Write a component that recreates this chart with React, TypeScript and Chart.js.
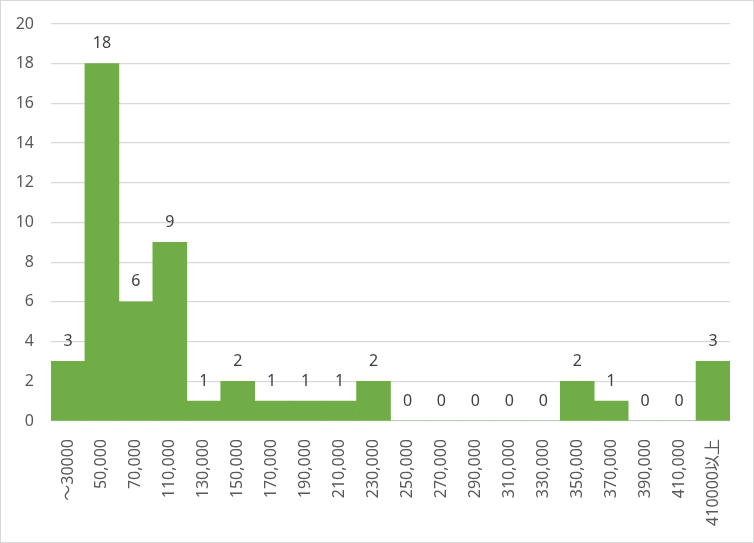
import React, { useEffect, useRef } from "react";
import { Chart, registerables } from "chart.js";

Chart.register(...registerables);

const categories: string[] = [
  "～30000", "50,000", "70,000", "110,000", "130,000", "150,000", "170,000",
  "190,000", "210,000", "230,000", "250,000", "270,000", "290,000", "310,000",
  "330,000", "350,000", "370,000", "390,000", "410,000", "410000以上",
];
const counts: number[] = [3, 18, 6, 9, 1, 2, 1, 1, 1, 2, 0, 0, 0, 0, 0, 2, 1, 0, 0, 3];
const yTicks: number[] = [0, 2, 4, 6, 8, 10, 12, 14, 16, 18, 20];

const FONT = "'Noto Sans', 'Noto Sans CJK JP', sans-serif";

const dataLabels = {
  id: "dataLabels",
  afterDatasetsDraw(chart: any) {
    const ctx = chart.ctx;
    const meta = chart.getDatasetMeta(0);
    ctx.save();
    ctx.font = `16px ${FONT}`;
    ctx.fillStyle = "#404040";
    ctx.textAlign = "center";
    ctx.textBaseline = "middle";
    meta.data.forEach((el: any, i: number) => {
      ctx.fillText(String(counts[i]), el.x, el.y - 20);
    });
    ctx.restore();
  },
};

export default function App() {
  const ref = useRef<HTMLCanvasElement | null>(null);
  useEffect(() => {
    document.body.style.margin = "0";
    if (!ref.current) return;
    const chart = new Chart(ref.current, {
      type: "bar",
      data: {
        labels: categories,
        datasets: [
          {
            data: counts,
            backgroundColor: "#70AD47",
            borderWidth: 0,
            categoryPercentage: 1,
            barPercentage: 1,
          },
        ],
      },
      options: {
        animation: false,
        responsive: false,
        devicePixelRatio: 1,
        layout: { padding: { left: 10, right: 23, top: 23, bottom: 11 } },
        plugins: { legend: { display: false }, tooltip: { enabled: false } },
        scales: {
          x: {
            grid: { display: false },
            border: { display: false },
            ticks: {
              autoSkip: false,
              maxRotation: 90,
              minRotation: 90,
              padding: 10,
              color: "#595959",
              font: { family: FONT, size: 16 },
            },
            afterFit: (s: any) => {
              s.height = 110;
            },
          },
          y: {
            min: 0,
            max: 20,
            afterBuildTicks: (s: any) => {
              s.ticks = yTicks.map((v) => ({ value: v }));
            },
            grid: {
              color: "#D9D9D9",
              lineWidth: 1.3,
              drawTicks: true,
              tickLength: 10,
              tickColor: "rgba(0,0,0,0)",
            },
            border: { display: false },
            ticks: {
              padding: 7,
              color: "#595959",
              font: { family: FONT, size: 16 },
            },
            afterFit: (s: any) => {
              s.width = 40;
            },
          },
        },
      },
      plugins: [dataLabels],
    });
    return () => chart.destroy();
  }, []);
  return (
    <div
      style={{
        width: 754,
        height: 543,
        boxSizing: "border-box",
        border: "1px solid #D9D9D9",
        background: "#fff",
      }}
    >
      <canvas ref={ref} width={752} height={541} style={{ display: "block" }} />
    </div>
  );
}
